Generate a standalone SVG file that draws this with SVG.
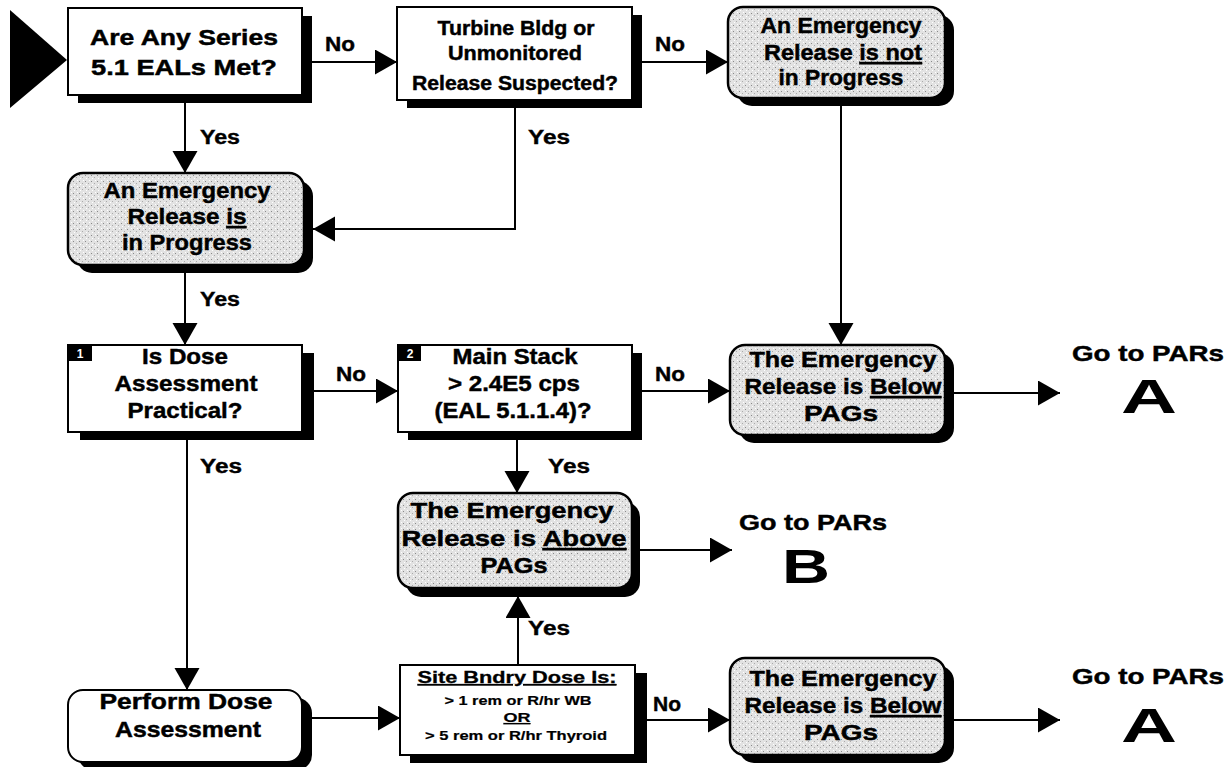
<svg xmlns="http://www.w3.org/2000/svg" width="1231" height="767" viewBox="0 0 1231 767">
<style>
.box{fill:#fff;stroke:#000;stroke-width:2}
.gbox{fill:url(#stip);stroke:#000;stroke-width:2.5}
.sh{fill:#000}
.t{font-family:"Liberation Sans",Arial,sans-serif;font-weight:bold;font-size:22px;fill:#000;stroke:#000;stroke-width:0.45;text-anchor:middle}
.s{font-size:20px}
.lbl{font-family:"Liberation Sans",Arial,sans-serif;font-weight:bold;font-size:20px;fill:#000;stroke:#000;stroke-width:0.4}
.big{font-family:"Liberation Sans",Arial,sans-serif;font-weight:bold;font-size:48px;fill:#000;text-anchor:middle}
.tag{font-family:"Liberation Sans",Arial,sans-serif;font-weight:bold;font-size:12px;fill:#fff;text-anchor:middle}
.c{fill:none;stroke:#000;stroke-width:2}
</style>
<defs>
<pattern id="stip" width="6" height="6" patternUnits="userSpaceOnUse">
<rect width="6" height="6" fill="#e2e2e2"/>
<rect x="1" y="1" width="1" height="1" fill="#8a8a8a"/>
<rect x="4" y="3" width="1" height="1" fill="#aaa"/>
<rect x="2" y="4" width="1" height="1" fill="#fff"/>
<rect x="5" y="0" width="1" height="1" fill="#fff"/>
</pattern>
<marker id="ah" markerUnits="userSpaceOnUse" markerWidth="23" markerHeight="26" refX="22" refY="12.5" orient="auto">
<path d="M0,0 L22,12.5 L0,25 Z" fill="#000"/>
</marker>
</defs>

<polygon id="start" points="10,10 67,60 10,108" fill="#000"/>

<g id="connectors">
<line class="c" x1="312" y1="62" x2="397" y2="62" marker-end="url(#ah)"/>
<line class="c" x1="642" y1="62" x2="728" y2="62" marker-end="url(#ah)"/>
<line class="c" x1="185" y1="103" x2="185" y2="173" marker-end="url(#ah)"/>
<path class="c" d="M515,108 V229 H313" marker-end="url(#ah)"/>
<line class="c" x1="185" y1="273" x2="185" y2="345" marker-end="url(#ah)"/>
<line class="c" x1="841" y1="106" x2="841" y2="345" marker-end="url(#ah)"/>
<line class="c" x1="314" y1="391" x2="398" y2="391" marker-end="url(#ah)"/>
<line class="c" x1="642" y1="391" x2="730" y2="391" marker-end="url(#ah)"/>
<line class="c" x1="517" y1="440" x2="517" y2="493" marker-end="url(#ah)"/>
<line class="c" x1="954" y1="393" x2="1060" y2="393" marker-end="url(#ah)"/>
<line class="c" x1="640" y1="550" x2="732" y2="550" marker-end="url(#ah)"/>
<line class="c" x1="187" y1="440" x2="187" y2="690" marker-end="url(#ah)"/>
<line class="c" x1="310" y1="718" x2="400" y2="718" marker-end="url(#ah)"/>
<line class="c" x1="518" y1="665" x2="518" y2="596" marker-end="url(#ah)"/>
<line class="c" x1="647" y1="720" x2="730" y2="720" marker-end="url(#ah)"/>
<line class="c" x1="954" y1="720" x2="1060" y2="720" marker-end="url(#ah)"/>
<text class="lbl" x="325" y="51" textLength="30" lengthAdjust="spacingAndGlyphs">No</text>
<text class="lbl" x="655" y="51" textLength="30" lengthAdjust="spacingAndGlyphs">No</text>
<text class="lbl" x="200" y="144" textLength="40" lengthAdjust="spacingAndGlyphs">Yes</text>
<text class="lbl" x="528" y="144" textLength="42" lengthAdjust="spacingAndGlyphs">Yes</text>
<text class="lbl" x="200" y="306" textLength="40" lengthAdjust="spacingAndGlyphs">Yes</text>
<text class="lbl" x="336" y="381" textLength="30" lengthAdjust="spacingAndGlyphs">No</text>
<text class="lbl" x="655" y="381" textLength="30" lengthAdjust="spacingAndGlyphs">No</text>
<text class="lbl" x="200" y="473" textLength="42" lengthAdjust="spacingAndGlyphs">Yes</text>
<text class="lbl" x="548" y="473" textLength="42" lengthAdjust="spacingAndGlyphs">Yes</text>
<text class="lbl" x="528" y="635" textLength="42" lengthAdjust="spacingAndGlyphs">Yes</text>
<text class="lbl" x="653" y="711" textLength="28" lengthAdjust="spacingAndGlyphs">No</text>
</g>

<g id="n1">
<rect class="sh" x="78" y="16" width="234" height="87"/>
<rect class="box" x="68" y="8" width="234" height="87"/>
<text class="t" x="184" y="45" textLength="188" lengthAdjust="spacingAndGlyphs">Are Any Series</text>
<text class="t" x="184" y="75" textLength="186" lengthAdjust="spacingAndGlyphs">5.1 EALs Met?</text>
</g>

<g id="n2">
<rect class="sh" x="407" y="15" width="235" height="93"/>
<rect class="box" x="397" y="7" width="235" height="93"/>
<text class="t s" x="516" y="35" textLength="157" lengthAdjust="spacingAndGlyphs">Turbine Bldg or</text>
<text class="t s" x="515" y="60" textLength="134" lengthAdjust="spacingAndGlyphs">Unmonitored</text>
<text class="t s" x="515" y="90" textLength="206" lengthAdjust="spacingAndGlyphs">Release Suspected?</text>
</g>

<g id="n3">
<rect class="sh" x="737" y="15" width="217" height="91" rx="15"/>
<rect class="gbox" x="728" y="7" width="217" height="91" rx="15"/>
<text class="t" x="841" y="33" textLength="161" lengthAdjust="spacingAndGlyphs">An Emergency</text>
<text class="t" x="843" y="60" textLength="158" lengthAdjust="spacingAndGlyphs">Release <tspan text-decoration="underline">is not</tspan></text>
<text class="t" x="841" y="85" textLength="125" lengthAdjust="spacingAndGlyphs">in Progress</text>
</g>

<g id="n4">
<rect class="sh" x="77" y="181" width="236" height="92" rx="15"/>
<rect class="gbox" x="68" y="173" width="236" height="92" rx="15"/>
<text class="t" x="187" y="198" textLength="167" lengthAdjust="spacingAndGlyphs">An Emergency</text>
<text class="t" x="187" y="224" textLength="119" lengthAdjust="spacingAndGlyphs">Release <tspan text-decoration="underline">is</tspan></text>
<text class="t" x="187" y="250" textLength="130" lengthAdjust="spacingAndGlyphs">in Progress</text>
</g>

<g id="n5">
<rect class="sh" x="80" y="353" width="234" height="87"/>
<rect class="box" x="68" y="345" width="234" height="87"/>
<rect x="69" y="345" width="23" height="16" fill="#000"/>
<text class="tag" x="80" y="358">1</text>
<text class="t" x="185" y="364" textLength="86" lengthAdjust="spacingAndGlyphs">Is Dose</text>
<text class="t" x="186" y="391" textLength="143" lengthAdjust="spacingAndGlyphs">Assessment</text>
<text class="t" x="185" y="418" textLength="115" lengthAdjust="spacingAndGlyphs">Practical?</text>
</g>

<g id="n6">
<rect class="sh" x="408" y="353" width="234" height="87"/>
<rect class="box" x="398" y="345" width="234" height="87"/>
<rect x="399" y="345" width="22" height="16" fill="#000"/>
<text class="tag" x="410" y="358">2</text>
<text class="t" x="515" y="364" textLength="125" lengthAdjust="spacingAndGlyphs">Main Stack</text>
<text class="t" x="514" y="391" textLength="132" lengthAdjust="spacingAndGlyphs">&gt; 2.4E5 cps</text>
<text class="t" x="513" y="418" textLength="157" lengthAdjust="spacingAndGlyphs">(EAL 5.1.1.4)?</text>
</g>

<g id="n7">
<rect class="sh" x="406" y="502" width="234" height="95" rx="15"/>
<rect class="gbox" x="398" y="493" width="234" height="95" rx="15"/>
<text class="t" x="512" y="518" textLength="203" lengthAdjust="spacingAndGlyphs">The Emergency</text>
<text class="t" x="514" y="546" textLength="225" lengthAdjust="spacingAndGlyphs">Release is <tspan text-decoration="underline">Above</tspan></text>
<text class="t" x="514" y="573" textLength="67" lengthAdjust="spacingAndGlyphs">PAGs</text>
</g>

<g id="n8">
<rect class="sh" x="739" y="353" width="215" height="90" rx="15"/>
<rect class="gbox" x="730" y="345" width="215" height="90" rx="15"/>
<text class="t" x="843" y="367" textLength="187" lengthAdjust="spacingAndGlyphs">The Emergency</text>
<text class="t" x="843" y="394" textLength="197" lengthAdjust="spacingAndGlyphs">Release is <tspan text-decoration="underline">Below</tspan></text>
<text class="t" x="841" y="421" textLength="74" lengthAdjust="spacingAndGlyphs">PAGs</text>
</g>

<g id="n9">
<rect class="sh" x="78" y="698" width="234" height="72" rx="15"/>
<rect class="box" x="68" y="690" width="234" height="72" rx="15"/>
<text class="t" x="186" y="709" textLength="173" lengthAdjust="spacingAndGlyphs">Perform Dose</text>
<text class="t" x="188" y="737" textLength="146" lengthAdjust="spacingAndGlyphs">Assessment</text>
</g>

<g id="n10">
<rect class="sh" x="410" y="673" width="237" height="90"/>
<rect class="box" x="400" y="665" width="235" height="90"/>
<text class="t" x="517" y="683" style="font-size:16px;stroke-width:0.3" textLength="199" lengthAdjust="spacingAndGlyphs"><tspan text-decoration="underline">Site Bndry Dose Is:</tspan></text>
<text class="t" x="518" y="705" style="font-size:12.5px;stroke-width:0.2" textLength="147" lengthAdjust="spacingAndGlyphs">&gt; 1 rem or R/hr WB</text>
<text class="t" x="517" y="722" style="font-size:12.5px;stroke-width:0.2" textLength="27" lengthAdjust="spacingAndGlyphs"><tspan text-decoration="underline">OR</tspan></text>
<text class="t" x="516" y="740" style="font-size:12.5px;stroke-width:0.2" textLength="182" lengthAdjust="spacingAndGlyphs">&gt; 5 rem or R/hr Thyroid</text>
</g>

<g id="n11">
<rect class="sh" x="739" y="666" width="215" height="97" rx="15"/>
<rect class="gbox" x="730" y="658" width="215" height="97" rx="15"/>
<text class="t" x="843" y="686" textLength="187" lengthAdjust="spacingAndGlyphs">The Emergency</text>
<text class="t" x="843" y="713" textLength="197" lengthAdjust="spacingAndGlyphs">Release is <tspan text-decoration="underline">Below</tspan></text>
<text class="t" x="841" y="740" textLength="74" lengthAdjust="spacingAndGlyphs">PAGs</text>
</g>

<g id="parA1">
<text class="t" x="1148" y="361" textLength="152" lengthAdjust="spacingAndGlyphs">Go to PARs</text>
<text class="big" x="1149" y="413" textLength="56" lengthAdjust="spacingAndGlyphs">A</text>
</g>
<g id="parB">
<text class="t" x="813" y="530" textLength="148" lengthAdjust="spacingAndGlyphs">Go to PARs</text>
<text class="big" x="806" y="583" textLength="48" lengthAdjust="spacingAndGlyphs">B</text>
</g>
<g id="parA2">
<text class="t" x="1148" y="684" textLength="152" lengthAdjust="spacingAndGlyphs">Go to PARs</text>
<text class="big" x="1149" y="742" textLength="56" lengthAdjust="spacingAndGlyphs">A</text>
</g>
</svg>
